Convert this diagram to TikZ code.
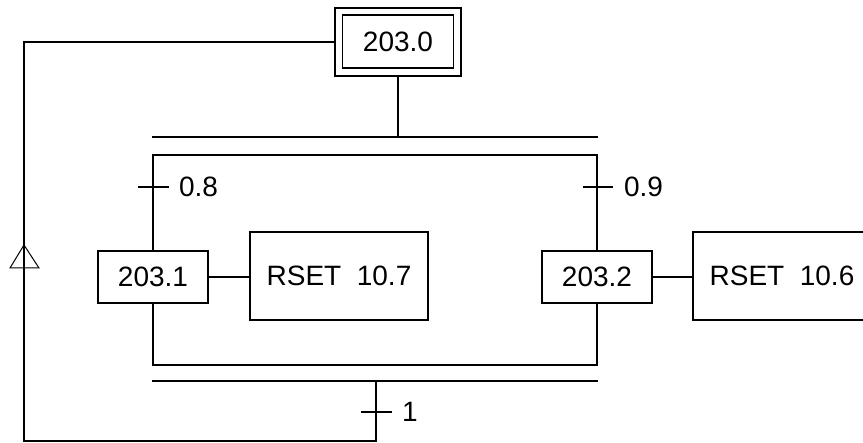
\documentclass[tikz,border=0pt]{standalone}
\usepackage{fontspec}
\setmainfont{Liberation Sans}
\begin{document}
\begin{tikzpicture}[x=1pt,y=-1pt,line width=1.3pt,
  every node/.style={inner sep=0pt,outer sep=0pt,font=\fontsize{28}{30}\selectfont},
  stepbox/.style={draw,minimum width=110pt,minimum height=52pt},
  actbox/.style={draw,minimum width=178pt,minimum height=88pt},
  lbl/.style={anchor=west}]
\useasboundingbox (0,0) rectangle (863,443);
\clip (0,0) rectangle (863,443);
% initial step
\node[draw,minimum width=126pt,minimum height=68pt] (s0) at (398,42) {};
\node[draw,minimum width=111pt,minimum height=53pt] (s0in) at (398,41.5) {203.0};
% steps
\node[stepbox] (s1) at (153,277) {203.1};
\node[stepbox] (s2) at (597,277) {203.2};
\node[actbox] (a1) at (339,276) {RSET\ \ 10.7};
\node[actbox] (a2) at (782,276) {RSET\ \ 10.6};
% coordinates
\coordinate (dTL) at (152,137);
\coordinate (dTR) at (598,137);
\coordinate (dBL) at (152,155);
\coordinate (dBR) at (598,155);
\coordinate (cTL) at (152,365);
\coordinate (cTR) at (598,365);
\coordinate (cBL) at (152,381);
\coordinate (cBR) at (598,381);
\coordinate (t1) at (153,187);
\coordinate (t2) at (597,187);
\coordinate (b0) at (376,381);
\coordinate (t3) at (376,412);
\coordinate (r0) at (376,441);
\coordinate (r1) at (24,441);
\coordinate (r2) at (24,42);
\coordinate (arr) at (24,245);
% divergence
\draw (s0.south) -- (s0.south |- dTL);
\draw (dTL) -- (dTR);
\draw (dBL) -- (dBR);
\draw (s1.north |- dBL) -- (s1.north);
\draw (s2.north |- dBR) -- (s2.north);
% transitions
\draw ([xshift=-15pt]t1) -- ([xshift=16pt]t1);
\node[lbl] (l1) at ([xshift=26pt]t1) {0.8};
\draw ([xshift=-14pt]t2) -- ([xshift=16pt]t2);
\node[lbl] (l2) at ([xshift=27pt]t2) {0.9};
% actions
\draw (s1.east) -- (s1.east -| a1.west);
\draw (s2.east) -- (s2.east -| a2.west);
% convergence
\draw (s1.south) -- (s1.south |- cTL) -- (s2.south |- cTR) -- (s2.south);
\draw (cBL) -- (cBR);
\draw (b0) -- (r0) -- (r1) -- (r2) -- (s0.west);
\draw ([xshift=-15pt]t3) -- ([xshift=16pt]t3);
\node[lbl] (l3) at ([xshift=26pt]t3) {1};
% arrow
\draw[line width=1pt] (arr) -- ([xshift=-14pt,yshift=-23pt]arr) -- ([xshift=15pt,yshift=-23pt]arr) -- cycle;
\end{tikzpicture}
\end{document}
